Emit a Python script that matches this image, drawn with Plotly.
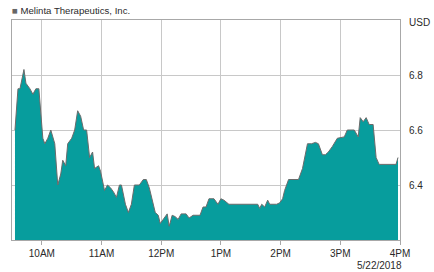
import plotly.graph_objects as go

title_text = "Melinta Therapeutics, Inc."
date_label = "5/22/2018"
currency = "USD"

times = ["09:33", "09:36", "09:38", "09:42", "09:44", "09:48", "09:51", "09:54", "09:57",
         "10:01", "10:03", "10:06", "10:09", "10:13", "10:16", "10:19", "10:21", "10:24",
         "10:26", "10:30", "10:33", "10:36", "10:39", "10:42", "10:45", "10:48", "10:51",
         "10:53", "10:57", "10:59", "11:03", "11:06", "11:09", "11:12", "11:15", "11:18",
         "11:20", "11:24", "11:27", "11:30", "11:33", "11:38", "11:42", "11:45", "11:48",
         "11:51", "11:54", "11:57", "11:59", "12:03", "12:06", "12:08", "12:11", "12:14",
         "12:17", "12:20", "12:25", "12:28", "12:32", "12:36", "12:39", "12:42", "12:45",
         "12:48", "12:53", "12:57", "13:00", "13:03", "13:08", "13:37", "13:39", "13:41",
         "13:44", "13:47", "13:49", "13:56", "13:59", "14:02", "14:04", "14:08", "14:18",
         "14:22", "14:27", "14:31", "14:35", "14:38", "14:42", "14:45", "14:48", "14:52",
         "14:57", "15:04", "15:07", "15:14", "15:18", "15:20", "15:23", "15:26", "15:29",
         "15:33", "15:36", "15:39", "15:56", "15:58"]
prices = [6.60, 6.75, 6.75, 6.82, 6.77, 6.75, 6.73, 6.75, 6.75,
          6.57, 6.55, 6.57, 6.60, 6.55, 6.40, 6.44, 6.49, 6.47,
          6.55, 6.57, 6.60, 6.67, 6.65, 6.60, 6.60, 6.50, 6.52,
          6.46, 6.47, 6.45, 6.38, 6.40, 6.39, 6.375, 6.355, 6.40,
          6.40, 6.33, 6.30, 6.33, 6.40, 6.40, 6.42, 6.42, 6.39,
          6.34, 6.30, 6.29, 6.26, 6.28, 6.295, 6.25, 6.29, 6.285,
          6.275, 6.295, 6.295, 6.28, 6.29, 6.29, 6.29, 6.32, 6.32,
          6.35, 6.35, 6.33, 6.35, 6.345, 6.33, 6.33, 6.315, 6.33,
          6.32, 6.345, 6.33, 6.33, 6.335, 6.35, 6.38, 6.42, 6.42,
          6.46, 6.55, 6.55, 6.555, 6.55, 6.51, 6.51, 6.52, 6.54,
          6.57, 6.575, 6.60, 6.60, 6.575, 6.645, 6.63, 6.645, 6.62,
          6.62, 6.50, 6.475, 6.475, 6.50]

tick_times = ["10:00", "11:00", "12:00", "13:00", "14:00", "15:00", "16:00"]
tick_labels = ["10AM", "11AM", "12PM", "1PM", "2PM", "3PM", "4PM"]
y_ticks = [6.4, 6.6, 6.8]
y_range = [6.2, 7.0]

day = "2018-05-22 "
x = [day + t for t in times]

fig = go.Figure()
fig.add_trace(go.Scatter(
    x=x, y=prices, mode="lines",
    line=dict(color="#6b6b6b", width=1),
    fill="tozeroy", fillcolor="#079d9d",
    hoverinfo="skip",
))

font = "Liberation Sans, Arial, sans-serif"
grid_col = "#c8c8c8"
line_col = "#a8a8a8"
text_col = "#2a2a2a"
fig.update_layout(
    width=434, height=272,
    margin=dict(l=11, r=28, t=20, b=32),
    paper_bgcolor="white", plot_bgcolor="white",
    showlegend=False,
    font=dict(family=font, size=10, color=text_col),
    xaxis=dict(
        type="date",
        range=[day + "09:30", day + "16:00"],
        tickmode="array",
        tickvals=[day + t for t in tick_times],
        ticktext=tick_labels,
        showgrid=True, gridcolor=grid_col, gridwidth=1,
        showline=True, linecolor=line_col, linewidth=1, mirror=True,
        ticks="outside", ticklen=4, tickcolor=line_col,
        tickfont=dict(size=10, color=text_col),
        zeroline=False,
        layer="above traces",
    ),
    yaxis=dict(
        side="right",
        range=y_range,
        tickmode="array",
        tickvals=y_ticks,
        ticktext=[f"{v:.1f}" for v in y_ticks],
        showgrid=True, gridcolor=grid_col, gridwidth=1,
        showline=True, linecolor=line_col, linewidth=1, mirror=True,
        ticks="", ticklabelstandoff=6,
        tickfont=dict(size=10, color=text_col),
        zeroline=False,
    ),
    annotations=[
        dict(text="<span style='color:#666666'>■</span> " + title_text,
             xref="paper", yref="paper", x=-0.005, y=1.0, xanchor="left", yanchor="bottom",
             yshift=2, showarrow=False, font=dict(size=9.6, color=text_col, family=font)),
        dict(text=currency, xref="paper", yref="paper", x=1.0, y=1.0,
             xanchor="left", yanchor="middle", xshift=7, yshift=-2, showarrow=False,
             font=dict(size=10, color=text_col, family=font)),
        dict(text=date_label, xref="paper", yref="paper", x=1.0, y=0.0,
             xanchor="right", yanchor="top", yshift=-18, xshift=4, showarrow=False,
             font=dict(size=10, color=text_col, family=font)),
    ],
)

fig.write_html("out.html", config={"displayModeBar": False},
               post_script="document.body.style.margin='0';document.body.style.padding='0';")
